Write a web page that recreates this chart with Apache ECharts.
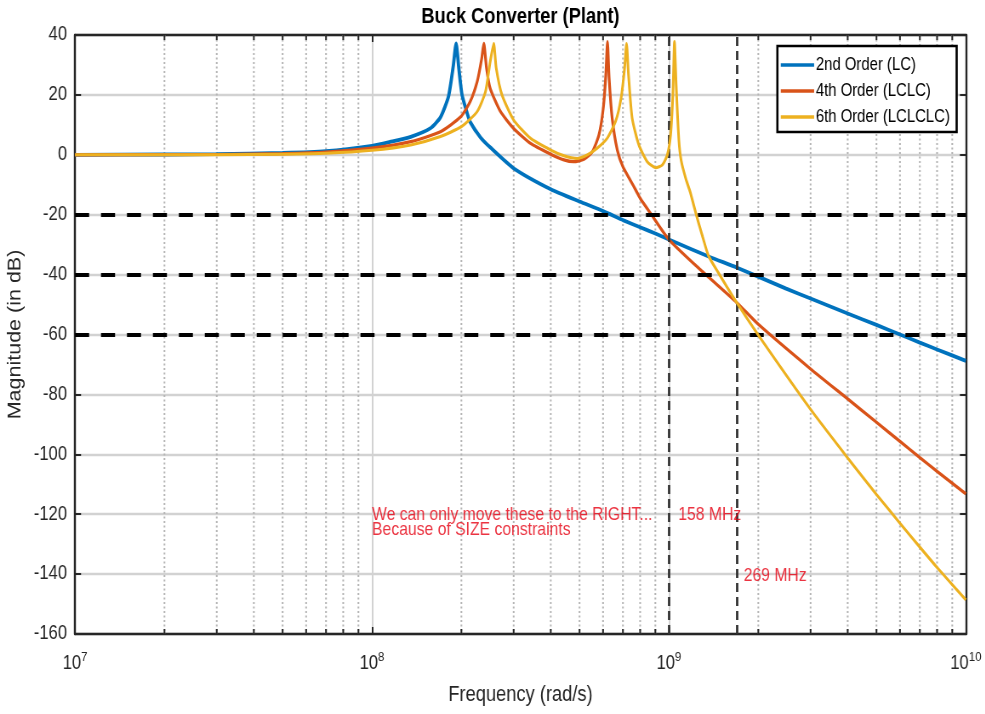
<!DOCTYPE html>
<html><head><meta charset="utf-8">
<script src="https://cdn.jsdelivr.net/npm/echarts@6/dist/echarts.min.js"></script>
<style>
html,body{margin:0;padding:0;background:#fff;overflow:hidden}
#wrap{width:985px;height:714px;overflow:hidden;position:relative}
#c{position:absolute;left:0;top:0;height:714px;transform-origin:0 0}
</style>
</head><body><div id="wrap"><div id="c"></div></div>
<script>
const chartTitle = 'Buck Converter (Plant)';
const xAxisName = 'Frequency (rad/s)';
const yAxisName = 'Magnitude (in dB)';
const seriesNames = ['2nd Order (LC)', '4th Order (LCLC)', '6th Order (LCLCLC)'];
const seriesColors = ['#0072BD', '#D95319', '#EDB120'];

// 2nd order (LC)
const lcFreq = [1e7, 2e7, 3e7, 5e7, 7e7, 1e8, 1.15e8, 1.35e8, 1.57e8, 1.70e8, 1.81e8, 1.88e8, 1.92e8, 1.96e8, 2.01e8, 2.09e8, 2.14e8, 2.32e8, 2.5e8, 3e8, 4e8, 5e8, 6e8, 7e8, 8e8, 9e8, 1e9, 1.38e9, 1.69e9, 2.47e9, 3e9, 4e9, 5e9, 6e9, 7e9, 8e9, 1e10];
const lcMag  = [0, 0.1, 0.2, 0.6, 1.2, 3.0, 4.3, 6.0, 8.8, 12.5, 19.5, 30, 37.2, 29, 20, 14, 11, 5.8, 2.5, -4.5, -11.5, -15.6, -18.8, -21.8, -24.2, -26.3, -28.3, -34.2, -37.6, -44.6, -48.0, -53.0, -56.8, -60.0, -62.7, -65.0, -68.8];

// 4th order (LCLC)
const lclcFreq = [1e7, 3e7, 5e7, 7e7, 1e8, 1.35e8, 1.70e8, 1.99e8, 2.14e8, 2.26e8, 2.34e8, 2.38e8, 2.43e8, 2.50e8, 2.71e8, 3.0e8, 3.42e8, 4.0e8, 4.43e8, 4.78e8, 5.17e8, 5.52e8, 5.81e8, 6.01e8, 6.13e8, 6.21e8, 6.29e8, 6.44e8, 6.70e8, 7.0e8, 7.62e8, 8.0e8, 8.75e8, 1e9, 1.28e9, 1.69e9, 2e9, 3e9, 4e9, 5e9, 6e9, 7e9, 8e9, 1e10];
const lclcMag  = [0, 0.1, 0.4, 0.9, 2.2, 4.4, 7.7, 12.7, 17.7, 24.4, 32, 37.2, 29, 22.2, 14.4, 8.8, 3.8, 0.2, -1.7, -2.3, -1.5, 1.0, 6.6, 15.5, 26.6, 37.8, 25.5, 12.2, 1.6, -4.0, -10.6, -14.5, -20.1, -28.3, -38.5, -49.3, -56.6, -71.5, -81.5, -89.3, -95.7, -101.1, -105.7, -113.2];

// 6th order (LCLCLC)
const lclclcFreq = [1e7, 3e7, 5e7, 7e7, 1e8, 1.35e8, 1.70e8, 2.0e8, 2.26e8, 2.41e8, 2.50e8, 2.57e8, 2.62e8, 2.74e8, 3.0e8, 3.42e8, 4.0e8, 4.43e8, 4.91e8, 5.31e8, 5.73e8, 6.19e8, 6.61e8, 6.90e8, 7.09e8, 7.20e8, 7.31e8, 7.52e8, 7.92e8, 8.45e8, 9.02e8, 9.5e8, 9.88e8, 1.013e9, 1.031e9, 1.044e9, 1.058e9, 1.08e9, 1.10e9, 1.14e9, 1.18e9, 1.236e9, 1.30e9, 1.36e9, 1.48e9, 1.69e9, 2e9, 3e9, 4e9, 5e9, 6e9, 7e9, 8e9, 1e10];
const lclclcMag  = [0, 0, 0.2, 0.5, 1.5, 3.3, 6.1, 9.4, 14.4, 21, 31, 37.2, 29, 20, 11.6, 5.5, 1.6, -0.3, -1.2, 0, 2.2, 5.5, 11.1, 18.9, 28.9, 37.2, 26.6, 12.2, 3.3, -2.3, -4.3, -3.4, 0, 6.6, 20, 37.8, 23, 5, -2, -8, -12.5, -20, -27.5, -33.8, -40, -49.3, -60.2, -85.0, -101.2, -113.4, -123.0, -131.0, -137.8, -148.6];

const yMin = -160, yMax = 40, yStep = 20;
const xMin = 1e7, xMax = 1e10;
const minorXTicks = [2e7,3e7,4e7,5e7,6e7,7e7,8e7,9e7, 2e8,3e8,4e8,5e8,6e8,7e8,8e8,9e8, 2e9,3e9,4e9,5e9,6e9,7e9,8e9,9e9];
const limitLevels = [-20, -40, -60];
const markerFreqs = [1e9, 1.69e9];
const noteText = ['We can only move these to the RIGHT...\nBecause of SIZE constraints', '158 MHz', '269 MHz'];
const noteFreq = [1e8, 1.075e9, 1.786e9];
const noteMag = [-122.8, -120.2, -140.5];

// The reference figure is horizontally compressed; render wider and squeeze.
const SX = 0.85;
const W = 985 / SX;
const hx = v => v / SX;
const el = document.getElementById('c');
el.style.width = W + 'px';
el.style.transform = 'scaleX(' + SX + ')';

const FONT = "'Liberation Sans',Arial,Helvetica,sans-serif";
const pairs = (f, m) => f.map((v, i) => [v, m[i]]);
const seriesData = [pairs(lcFreq, lcMag), pairs(lclcFreq, lclcMag), pairs(lclclcFreq, lclclcMag)];
const lineWidths = [3.8, 3.2, 3.0];

const chart = echarts.init(el, null, {renderer: 'canvas', width: W, height: 714});
const axisLine = {show: true, onZero: false, lineStyle: {color: '#262626', width: 2.4}};
const tick = {show: true, inside: true, length: 7, lineStyle: {color: '#262626', width: 2}};

const option = {
  animation: false,
  backgroundColor: '#fff',
  title: {text: chartTitle, left: hx(520), top: 6, padding: 0, textAlign: 'center',
    textStyle: {fontFamily: FONT, fontSize: 21.5, fontWeight: 'bold', color: '#000'}},
  legend: {
    data: seriesNames, orient: 'vertical', left: hx(776.7), top: 46,
    backgroundColor: '#fff', borderColor: '#000', borderWidth: 2.6,
    padding: [10, 8, 6, 4], itemGap: 8, itemWidth: hx(33.3), itemHeight: 3.5, icon: 'rect',
    textStyle: {fontFamily: FONT, fontSize: 17.5, color: '#000', padding: [0, 0, 0, -3]}
  },
  grid: {left: hx(75), right: W - hx(965), top: 35, bottom: 80, containLabel: false, outerBoundsMode: 'none'},
  xAxis: [{
    type: 'log', logBase: 10, min: xMin, max: xMax,
    name: xAxisName, nameLocation: 'middle', nameGap: 50,
    nameTextStyle: {fontFamily: FONT, fontSize: 21.5, color: '#262626'},
    axisLine: axisLine, axisTick: tick,
    axisLabel: {margin: 16, color: '#262626', fontFamily: FONT,
      formatter: v => '{b|10}{s|' + Math.round(Math.log10(v)) + '}',
      rich: {b: {fontSize: 19.5, fontFamily: FONT, color: '#262626'},
             s: {fontSize: 13.5, fontFamily: FONT, color: '#262626', padding: [0, 0, 13, 0]}}},
    splitLine: {show: true, lineStyle: {color: '#d2d2d2', width: 2}}
  }, {
    type: 'log', logBase: 10, min: xMin, max: xMax, position: 'top',
    axisLine: axisLine, axisTick: tick, axisLabel: {show: false}, splitLine: {show: false}
  }],
  yAxis: [{
    type: 'value', min: yMin, max: yMax, interval: yStep,
    name: yAxisName, nameLocation: 'middle', nameGap: 47, nameRotate: 90,
    nameTextStyle: {fontFamily: FONT, fontSize: 21.5, color: '#262626'},
    axisLine: axisLine, axisTick: tick,
    axisLabel: {margin: 9.5, fontFamily: FONT, fontSize: 19.5, color: '#262626'},
    splitLine: {show: true, lineStyle: {color: '#d2d2d2', width: 2.4}}
  }, {
    type: 'value', min: yMin, max: yMax, interval: yStep, position: 'right',
    axisLine: axisLine, axisTick: tick, axisLabel: {show: false}, splitLine: {show: false}
  }],
  series: [
    {
      type: 'custom', silent: true, z: 1, xAxisIndex: 0, yAxisIndex: 0,
      data: minorXTicks.map(v => [v, yMin]), encode: {x: 0, y: 1},
      renderItem: (params, api) => {
        const v = api.value(0);
        const top = api.coord([v, yMax]);
        const bot = api.coord([v, yMin]);
        return {type: 'group', children: [
          {type: 'line', shape: {x1: top[0], y1: top[1], x2: bot[0], y2: bot[1]},
            style: {stroke: '#b5b5b5', lineWidth: 2, lineDash: [2, 2.5]}},
          {type: 'line', shape: {x1: bot[0], y1: bot[1], x2: bot[0], y2: bot[1] - 5},
            style: {stroke: '#262626', lineWidth: 2}},
          {type: 'line', shape: {x1: top[0], y1: top[1], x2: top[0], y2: top[1] + 5},
            style: {stroke: '#262626', lineWidth: 2}}
        ]};
      }
    },
    {
      type: 'line', data: [], silent: true, z: 2,
      markLine: {silent: true, symbol: ['none', 'none'], label: {show: false},
        data: limitLevels.map(v => ({yAxis: v, lineStyle: {color: '#000', width: 4, type: [16.5, 14]}}))
          .concat(markerFreqs.map(v => ({xAxis: v, lineStyle: {color: '#333', width: 2.8, type: [9, 5]}})))}
    },
    ...seriesData.map((d, i) => ({
      name: seriesNames[i], type: 'line', data: d, showSymbol: false, z: 3 + i,
      smooth: 0.2, color: seriesColors[i], lineStyle: {color: seriesColors[i], width: lineWidths[i]}
    })),
    {
      type: 'scatter', silent: true, z: 10, symbolSize: 0,
      data: noteText.map((t, i) => ({value: [noteFreq[i], noteMag[i]], name: t})),
      label: {show: true, position: 'right', distance: 0, formatter: p => p.name,
        fontFamily: FONT, fontSize: 18.5, lineHeight: 15, color: '#E60012', align: 'left'}
    }
  ]
};
chart.setOption(option);
</script>
</body></html>
